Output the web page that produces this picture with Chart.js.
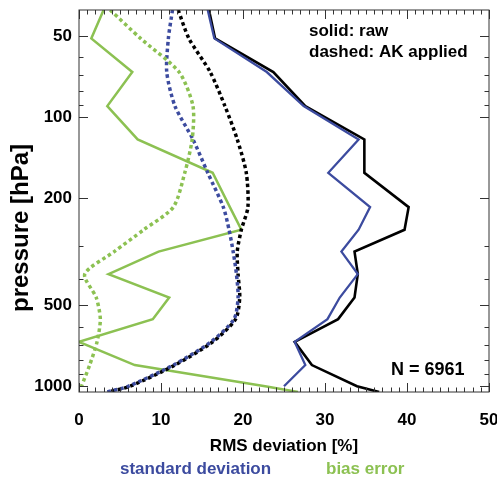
<!DOCTYPE html>
<html>
<head>
<meta charset="utf-8">
<script src="https://cdn.jsdelivr.net/npm/chart.js@4.4.0/dist/chart.umd.min.js"></script>
<style>
  html, body { margin: 0; padding: 0; background: #fff; }
  #wrap { width: 497px; height: 479px; }
</style>
</head>
<body>
<div id="wrap"><canvas id="rms"></canvas></div>
<script>
// pressure levels [hPa]
const pressure = [40, 51, 68, 91, 121, 161, 216, 262, 316, 383, 468, 563, 684, 834, 1000, 1050];

// solid: raw
const rawTotal = [15.85, 16.6, 23.7, 27.6, 34.8, 34.8, 40.2, 39.7, 33.6, 34.0, 33.6, 31.6, 26.3, 28.4, 33.9, 36.6];
const rawStd   = [15.7, 16.5, 22.9, 27.4, 34.1, 30.4, 35.5, 34.1, 32.0, 34.0, 31.8, 30.3, 26.3, 27.6, 25.0, null];
const rawBias  = [3.0, 1.5, 6.5, 3.45, 7.15, 16.3, 18.4, 19.8, 9.7, 3.6, 11.0, 9.0, 0.0, 6.8, 22.7, 26.7];

// dashed: AK applied
const akTotal = [12.1, 13.4, 16.0, 17.8, 19.3, 20.4, 20.6, 19.8, 19.3, 19.4, 19.6, 19.1, 16.3, 11.7, 6.2, 3.5];
const akStd   = [11.4, 10.9, 10.7, 11.7, 13.9, 15.7, 17.6, 18.3, 18.8, 19.2, 19.4, 18.9, 16.1, 11.5, 6.0, 3.4];
const akBias  = [3.8, 7.5, 12.2, 13.9, 13.8, 12.9, 11.5, 7.9, 4.3, 0.7, 2.1, 2.6, 2.2, 1.3, 0.3, null];

const yMajor = [50, 100, 200, 500, 1000];
const yMinor = [60, 70, 80, 90, 300, 400, 600, 700, 800, 900];
const xTicks = [0, 10, 20, 30, 40, 50];

const BLUE = '#3c4b9f';
const GREEN = '#8cc152';
const FONT = 'Liberation Sans, Arial, Helvetica, sans-serif';

function points(values) {
  return values
    .map((v, i) => ({ x: v, y: pressure[i] }))
    .filter(p => p.x !== null);
}

function line(values, color, dotted, width) {
  return {
    data: points(values),
    borderColor: color,
    borderWidth: width,
    borderDash: dotted ? [3.5, 3] : [],
    borderCapStyle: 'butt',
    tension: dotted ? 0.25 : 0,
    pointRadius: 0,
    showLine: true,
    fill: false
  };
}

//Frame, inward tick marks and the notes
const frameTicks = {
  id: 'frameTicks',
  afterDatasetsDraw(chart) {
    const { ctx, chartArea: a, scales: { x, y } } = chart;
    ctx.save();
    ctx.strokeStyle = '#333';
    ctx.lineWidth = 1;
    ctx.beginPath();
    for (let v = 0; v <= 50; v++) {
      const len = v % 10 === 0 ? 9 : 4.5;
      const px = Math.round(x.getPixelForValue(v)) + 0.5;
      ctx.moveTo(px, a.bottom); ctx.lineTo(px, a.bottom - len);
      ctx.moveTo(px, a.top); ctx.lineTo(px, a.top + len);
    }
    yMajor.concat(yMinor).forEach(v => {
      const len = yMajor.includes(v) ? 9 : 4.5;
      const py = Math.round(y.getPixelForValue(v)) + 0.5;
      ctx.moveTo(a.left, py); ctx.lineTo(a.left + len, py);
      ctx.moveTo(a.right, py); ctx.lineTo(a.right - len, py);
    });
    ctx.stroke();
    ctx.strokeRect(a.left, a.top, a.width, a.height);

    ctx.fillStyle = '#000';
    ctx.textAlign = 'left';
    ctx.textBaseline = 'alphabetic';
    ctx.font = 'bold 17px ' + FONT;
    ctx.fillText('solid: raw', 309, 36);
    ctx.fillText('dashed: AK applied', 309, 57);
    ctx.font = 'bold 18px ' + FONT;
    ctx.fillText('N = 6961', 391, 375);

    ctx.font = 'bold 17px ' + FONT;
    ctx.fillStyle = BLUE;
    ctx.fillText('standard deviation', 120, 474);
    ctx.fillStyle = GREEN;
    ctx.fillText('bias error', 326, 474);

    // y title sits a bit below the plot centre in the original
    ctx.save();
    ctx.translate(21, 228);
    ctx.rotate(-Math.PI / 2);
    ctx.textAlign = 'center';
    ctx.textBaseline = 'middle';
    ctx.fillStyle = '#000';
    ctx.font = 'bold 24px ' + FONT;
    ctx.fillText('pressure [hPa]', 0, 0);
    ctx.restore();
    ctx.restore();
  }
};

const rmsCtx = document.getElementById('rms').getContext('2d');
const rmsChart = new Chart(rmsCtx, {
  type: 'scatter',
  data: {
    datasets: [
      line(akBias, GREEN, true, 3.5),
      line(akStd, BLUE, true, 3.5),
      line(akTotal, '#000', true, 3.5),
      line(rawBias, GREEN, false, 2.5),
      line(rawStd, BLUE, false, 2.3),
      line(rawTotal, '#000', false, 2.6)
    ]
  },
  options: {
    responsive: true,
    maintainAspectRatio: false,
    animation: false,
    layout: { padding: { top: 10, right: 8, left: 0, bottom: 0 } },
    plugins: {
      legend: { display: false },
      tooltip: { enabled: false }
    },
    scales: {
      x: {
        type: 'linear',
        min: 0,
        max: 50,
        afterBuildTicks: scale => { scale.ticks = xTicks.map(v => ({ value: v })); },
        afterFit: scale => { scale.height = 87; scale.paddingLeft = 0; scale.paddingRight = 0; },
        grid: { display: false, drawTicks: false },
        border: { display: false },
        ticks: {
          color: '#000',
          padding: 18,
          maxRotation: 0,
          autoSkip: false,
          font: { family: FONT, size: 17, weight: 'bold' }
        },
        title: {
          display: true,
          text: 'RMS deviation [%]',
          color: '#000',
          padding: { top: 0, bottom: 22 },
          font: { family: FONT, size: 17, weight: 'bold' }
        }
      },
      y: {
        type: 'logarithmic',
        reverse: true,
        min: 40,
        max: 1050,
        afterBuildTicks: scale => { scale.ticks = yMajor.map(v => ({ value: v })); },
        afterFit: scale => { scale.width = 79; scale.paddingTop = 0; scale.paddingBottom = 0; },
        grid: { display: false, drawTicks: false },
        border: { display: false },
        ticks: {
          color: '#000',
          padding: 7,
          autoSkip: false,
          callback: value => String(value),
          font: { family: FONT, size: 17, weight: 'bold' }
        }
      }
    }
  },
  plugins: [frameTicks]
});
</script>
</body>
</html>
